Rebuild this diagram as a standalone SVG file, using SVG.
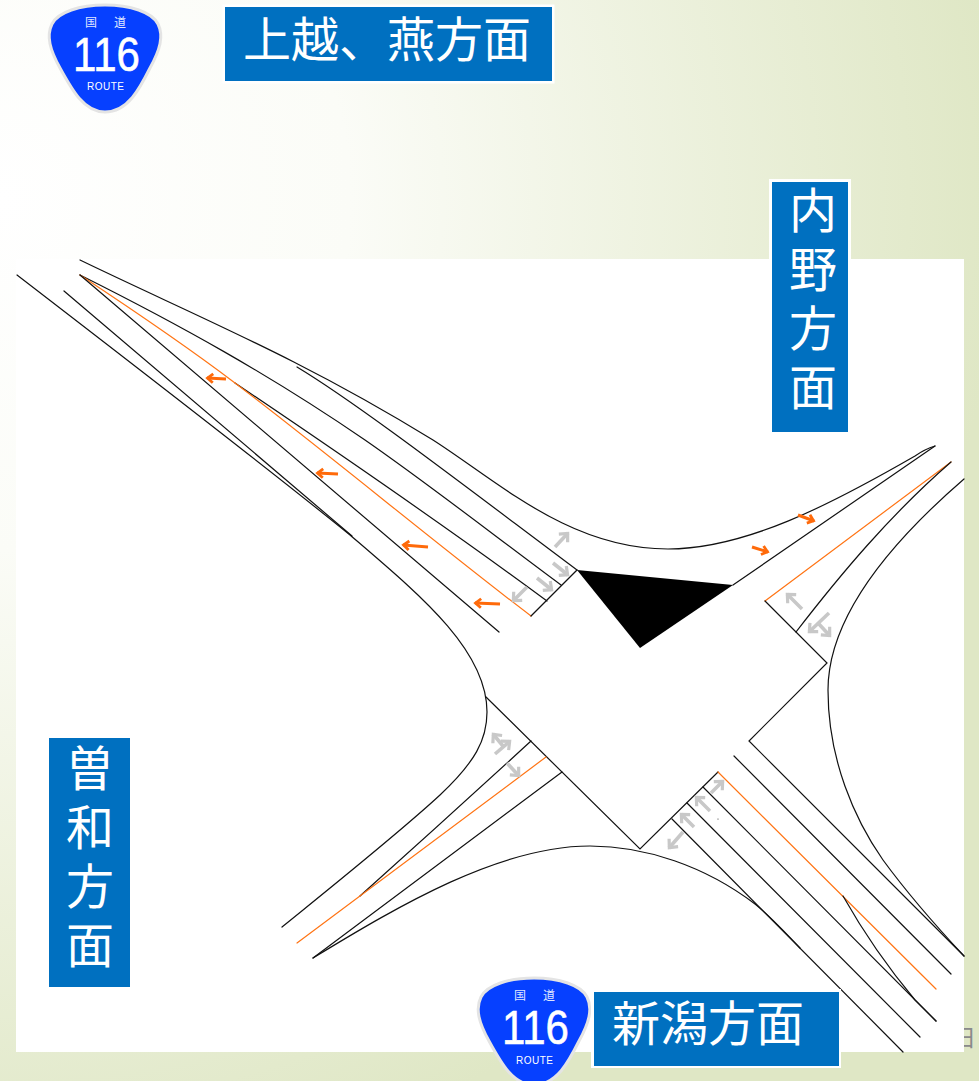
<svg xmlns="http://www.w3.org/2000/svg" xmlns:xlink="http://www.w3.org/1999/xlink" width="979" height="1081" viewBox="0 0 979 1081">
<style>
.r{fill:none;stroke:#111;stroke-width:1.2;stroke-linecap:round}
.o{fill:none;stroke:#ff7414;stroke-width:1.2;stroke-linecap:round}
.ao{fill:none;stroke:#ff6a0a;stroke-width:3;marker-end:url(#mo)}
.ag{fill:none;stroke:#c8c8c8;stroke-width:3.6;marker-end:url(#mg)}
.sign{fill:#0070c0}
.st{fill:#fff;font-family:"Noto Sans CJK JP","Noto Sans CJK SC",sans-serif;font-size:48px;font-weight:400}
.v{writing-mode:vertical-rl;letter-spacing:10.8px}
.s{fill:#fff;font-family:"Liberation Sans",sans-serif}
.b{stroke:#fff;stroke-width:0.6}
.sj{fill:#dfe6ff;font-family:"Noto Sans CJK JP",sans-serif;font-size:12px;text-anchor:middle}
</style>
<defs>
<radialGradient id="bg" gradientUnits="userSpaceOnUse" cx="0" cy="200" r="1000">
<stop offset="0" stop-color="#ffffff"/><stop offset="0.35" stop-color="#fbfcf7"/><stop offset="1" stop-color="#dfe7c5"/>
</radialGradient>
<marker id="mo" markerUnits="userSpaceOnUse" orient="auto" overflow="visible" markerWidth="10" markerHeight="10" refX="0" refY="0"><path d="M-6 -4.500L-0.5 0L-6 4.500" fill="none" stroke="#ff6a0a" stroke-width="2.8"/></marker>
<marker id="mg" markerUnits="userSpaceOnUse" orient="auto" overflow="visible" markerWidth="10" markerHeight="10" refX="0" refY="0"><path d="M-7 -6L-0.5 0L-7 6" fill="none" stroke="#c8c8c8" stroke-width="3.2"/></marker>
<path id="shield" d="M105 5C130 5 152 12 158 24C164 36 160 50 150 68C140 88 128 112 105 112C84 112 72 90 60 68C50 50 46 36 52 24C58 12 80 5 105 5Z" fill="#0640ff" stroke="#e4e4e4" stroke-width="3"/>
</defs>
<rect width="979" height="1081" fill="url(#bg)"/>
<text x="953" y="1046" font-size="23" fill="#8a8a8a" font-family="Noto Sans CJK JP,sans-serif">日</text>
<rect x="16" y="259" width="948" height="793" fill="#fff"/>
<g id="connectors">
<path class="r" d="M80 260C200 318 300 358 433 440C500 483 570 549 668 549C745 549 830 505 915 456Q925 449 935 446"/>
<path class="r" d="M297 367C360 405 470 490 577 570"/>
<path class="r" d="M80 275C180 325 270 375 365 440C430 485 500 540 561 585"/>
<path class="r" d="M235 383C330 447 440 522 547 601"/>
<path class="o" d="M80 275C130 308 185 345 235 383C330 455 440 547 531 616"/>
<path class="r" d="M80 275L499 632"/>
<path class="r" d="M64 291L352 536"/>
<path class="r" d="M17 275C130 362 270 470 350 535C420 595 487 650 487 712C487 740 475 762 440 795C400 832 340 880 282 927"/>
<path class="r" d="M577 570L531 616"/>
<path class="r" d="M733 585L935 446"/>
<path class="o" d="M951 462L765 601"/>
<path class="r" d="M951 462C890 515 840 575 796 632"/>
<path class="r" d="M765 601L827 663L749 741L964 956"/>
<path class="r" d="M964 479C905 530 828 610 828 690C828 760 855 820 883 860C905 890 935 925 964 956"/>
<path class="r" d="M486 697L640 849L718 772"/>
<path class="r" d="M360 896Q446 819 531 741"/>
<path class="o" d="M297 943L546 757"/>
<path class="r" d="M313 958L562 772"/>
<path class="r" d="M313 958C400 905 500 846 590 846C645 846 705 866 755 904C770 916 785 932 800 948"/>
<path class="o" d="M718 772L936 989"/>
<path class="r" d="M843 896C865 935 890 970 915 1000L936 1021"/>
<path class="r" d="M734 756L951 974"/>
<path class="r" d="M703 787L936 1021"/>
<path class="r" d="M687 803L920 1037"/>
<path class="r" d="M672 819L903 1052"/>
<circle cx="718" cy="819" r="0.6" fill="#333"/>
</g>
<polygon id="island" points="577,570 733,585 640,648" fill="#000"/>
<g id="flow-arrows">
<path class="ao" d="M226 379L207 378"/>
<path class="ao" d="M338 474L317 473"/>
<path class="ao" d="M428 547L403 545"/>
<path class="ao" d="M500 604L475 603"/>
<path class="ao" d="M752 547L768 552"/>
<path class="ao" d="M798 515L814 521"/>
<path class="ag" d="M555 547L568 533"/>
<path class="ag" d="M553 563L568 575"/>
<path class="ag" d="M537 578L552 590"/>
<path class="ag" d="M527 587L513 601"/>
<path class="ag" d="M802 609L787 594"/>
<path class="ag" d="M829 613L809 632"/>
<path class="ag" d="M818 623L830 636"/>
<path class="ag" d="M495 754L510 741"/>
<path class="ag" d="M503 746L493 734"/>
<path class="ag" d="M507 763L519 776"/>
<path class="ag" d="M711 793L723 781"/>
<path class="ag" d="M710 811L696 797"/>
<path class="ag" d="M694 827L681 814"/>
<path class="ag" d="M683 832L669 848"/>
</g>
<g id="route-top">
<use xlink:href="#shield" href="#shield"/>
<text class="sj" x="91" y="27">国</text><text class="sj" x="120" y="27">道</text>
<text class="s b" x="73" y="71" font-size="49" textLength="67" lengthAdjust="spacingAndGlyphs">116</text>
<text class="s" x="87" y="90" font-size="10" textLength="37">ROUTE</text>
</g>
<g id="route-bottom">
<use xlink:href="#shield" href="#shield" transform="translate(429 973)"/>
<text class="sj" x="520" y="1000">国</text><text class="sj" x="549" y="1000">道</text>
<text class="s b" x="502" y="1044" font-size="49" textLength="67" lengthAdjust="spacingAndGlyphs">116</text>
<text class="s" x="516" y="1064" font-size="10" textLength="37">ROUTE</text>
</g>
<g id="sign-joetsu">
<rect x="222.500" y="4.500" width="332" height="79" fill="#fff"/>
<rect class="sign" x="225" y="7" width="327" height="74"/>
<text class="st" x="243" y="57">上越、燕方面</text>
</g>
<g id="sign-niigata">
<rect x="591" y="989" width="250" height="79" fill="#fff"/>
<rect class="sign" x="594" y="992" width="245" height="74"/>
<text class="st" x="612" y="1041">新潟方面</text>
</g>
<g id="sign-uchino">
<rect x="769" y="179" width="82" height="255" fill="#fff"/>
<rect class="sign" x="772" y="182" width="76" height="250"/>
<text class="st v" x="813" y="186">内野方面</text>
</g>
<g id="sign-sowa">
<rect class="sign" x="49" y="738" width="81" height="249"/>
<text class="st v" x="90" y="744">曽和方面</text>
</g>
</svg>
